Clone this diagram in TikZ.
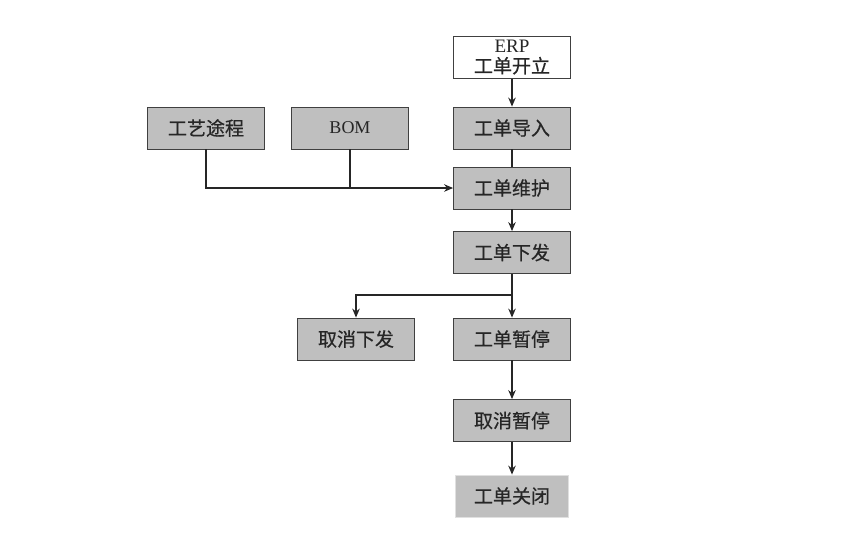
\documentclass[tikz,border=0pt]{standalone}
\usepackage{fontspec}
\setmainfont{Liberation Serif}
\newfontfamily\cjk[FakeBold=0.6]{Noto Sans CJK SC}
\usetikzlibrary{arrows.meta}
\usetikzlibrary{positioning}

\begin{document}
\begin{tikzpicture}[>={Stealth[length=9pt,width=7.5pt]},x=1pt,y=-1pt,
    link/.style={draw=black!85,line width=1.3pt},
    stepbox/.style={draw=black!75,line width=0.8pt,fill=black!25,minimum width=117pt,minimum height=42pt,inner sep=0pt,text=black!85,font=\cjk\fontsize{19}{22}\selectfont},
    startbox/.style={stepbox,fill=white,align=center,font=\fontsize{19}{19}\selectfont}]

            \useasboundingbox (0,0) rectangle (860,547);

            % Main column
            \node[startbox] (erp) at (512,57.5) {ERP\\[1pt]{\cjk\fontsize{19}{20}\selectfont 工单开立}};
            \node[stepbox] (import) at (512,128) {工单导入};
            \node[stepbox] (maint) at (512,188) {工单维护};
            \node[stepbox] (issue) at (512,252.5) {工单下发};
            \node[stepbox] (pause) at (512,339) {工单暂停};
            \node[stepbox] (resume) at (512,420.5) {取消暂停};
            \node[stepbox,draw=black!12,minimum width=113pt] (close) at (512,496) {工单关闭};

            % Side nodes
            \node[stepbox] (route) at (206,128) {工艺途程};
            \node[stepbox,font=\fontsize{18}{20}\selectfont] (bom) at (350,128) {BOM};
            \node[stepbox] (cancel) at (356,339) {取消下发};

            \coordinate (split) at (512,295);

            % Connectors
            \draw[link,->] (erp) -- (import);
            \draw[link] (import) -- (maint);
            \draw[link,->] (route) |- (maint);
            \draw[link] (bom) -- (bom |- maint);
            \draw[link,->] (maint) -- (issue);
            \draw[link] (issue) -- (split);
            \draw[link,->] (split) -- (pause);
            \draw[link,->] (split) -| (cancel);
            \draw[link,->] (pause) -- (resume);
            \draw[link,->] (resume) -- (close);

\end{tikzpicture}
\end{document}
